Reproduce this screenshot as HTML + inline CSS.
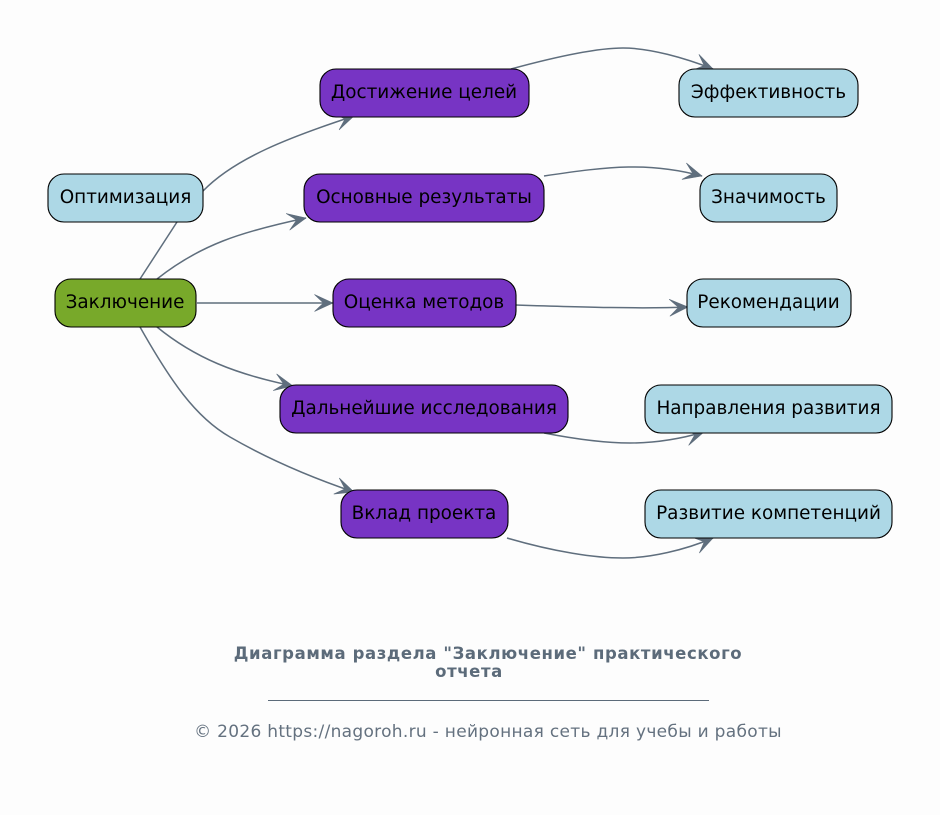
<!DOCTYPE html>
<html><head><meta charset="utf-8"><style>
html,body{margin:0;padding:0;background:#fdfdfd}
svg{display:block}
text{font-family:"DejaVu Sans",sans-serif}
.n{font-size:18.4px;fill:#000;text-anchor:middle}
rect{stroke:#000;stroke-width:1.1}
.e{fill:none;stroke:#5f6e7d;stroke-width:1.5}
.a{fill:#5f6e7d;stroke:#5f6e7d;stroke-width:.6}
</style></head><body>
<svg width="940" height="815" viewBox="0 0 940 815" xmlns="http://www.w3.org/2000/svg">
<defs>
<marker id="h" markerUnits="userSpaceOnUse" markerWidth="24" markerHeight="24" refX="20" refY="12" orient="auto" viewBox="0 0 24 24"><path class="a" d="M20,12 L1.5,3.5 L10.5,12 L1.5,20.5 Z"/></marker>
</defs>
<path class="e" d="M140,279 L177,222"/>
<path class="e" marker-end="url(#h)" d="M203,191 C235,158 290,137 354,116"/>
<path class="e" marker-end="url(#h)" d="M157,279 C200,245 240,232 306,218"/>
<path class="e" marker-end="url(#h)" d="M197,303 L333,303"/>
<path class="e" marker-end="url(#h)" d="M157,327 C195,358 235,374 293,386"/>
<path class="e" marker-end="url(#h)" d="M140,327 C170,380 195,417 230,437 C268,459 310,477 354,492"/>
<path class="e" marker-end="url(#h)" d="M511,69 C555,57 595,48 623,48 C650,48 685,58 713,69"/>
<path class="e" marker-end="url(#h)" d="M544,176 C610,166 650,162 702,176"/>
<path class="e" marker-end="url(#h)" d="M516,305 C580,307 640,309 688,307"/>
<path class="e" marker-end="url(#h)" d="M544,433 C575,439 605,443 630,443 C655,443 680,439 704,432"/>
<path class="e" marker-end="url(#h)" d="M507,538 C555,552 595,558 623,558 C650,558 685,550 713,538"/>

<rect x="48" y="174" width="155" height="48" rx="16" fill="#add8e6"/>
<rect x="55" y="279" width="141" height="48" rx="16" fill="#78a92a"/>
<rect x="320" y="69" width="209" height="48" rx="16" fill="#7734c4"/>
<rect x="304" y="174" width="240" height="48" rx="16" fill="#7734c4"/>
<rect x="333" y="279" width="183" height="48" rx="16" fill="#7734c4"/>
<rect x="280" y="385" width="288" height="48" rx="16" fill="#7734c4"/>
<rect x="341" y="490" width="167" height="48" rx="16" fill="#7734c4"/>
<rect x="679" y="69" width="179" height="48" rx="16" fill="#add8e6"/>
<rect x="700" y="174" width="137" height="48" rx="16" fill="#add8e6"/>
<rect x="687" y="279" width="164" height="48" rx="16" fill="#add8e6"/>
<rect x="645" y="385" width="247" height="48" rx="16" fill="#add8e6"/>
<rect x="645" y="490" width="247" height="48" rx="16" fill="#add8e6"/>

<text class="n" x="125.5" y="203">Оптимизация</text>
<text class="n" x="125" y="308">Заключение</text>
<text class="n" x="424" y="98">Достижение целей</text>
<text class="n" x="424" y="203">Основные результаты</text>
<text class="n" x="424" y="308">Оценка методов</text>
<text class="n" x="424" y="414">Дальнейшие исследования</text>
<text class="n" x="424" y="519">Вклад проекта</text>
<text class="n" x="768.5" y="98">Эффективность</text>
<text class="n" x="768.5" y="203">Значимость</text>
<text class="n" x="768.5" y="308">Рекомендации</text>
<text class="n" x="768.5" y="414">Направления развития</text>
<text class="n" x="768.5" y="519">Развитие компетенций</text>

<text x="488" y="659" text-anchor="middle" font-size="16.5" letter-spacing=".6" font-weight="bold" fill="#5c6b7a">Диаграмма раздела "Заключение" практического</text>
<text x="469" y="677" text-anchor="middle" font-size="16.5" letter-spacing=".6" font-weight="bold" fill="#5c6b7a">отчета</text>
<rect x="268" y="700" width="441" height="1" fill="#5c6b7a" style="stroke:none"/>
<text x="488" y="737" text-anchor="middle" font-size="17" letter-spacing=".3" fill="#64717f">© 2026 https://nagoroh.ru - нейронная сеть для учебы и работы</text>
</svg>
</body></html>
